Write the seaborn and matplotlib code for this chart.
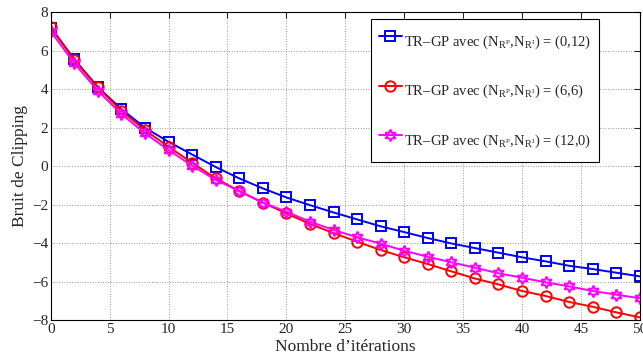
import seaborn as sns
import pandas as pd
import matplotlib.pyplot as plt
import numpy as np

iterations = list(range(0, 51, 2))

bruit_0_12 = [7.2, 5.55, 4.1, 2.96, 1.99, 1.26, 0.6, -0.05, -0.64, -1.16, -1.63, -2.03, -2.41,
              -2.77, -3.13, -3.43, -3.74, -4.02, -4.26, -4.5, -4.74, -4.95, -5.18, -5.35, -5.54, -5.73]
bruit_6_6 = [7.22, 5.5, 4.09, 2.86, 1.87, 1.0, 0.17, -0.64, -1.3, -1.9, -2.46, -3.01, -3.48,
             -3.93, -4.36, -4.74, -5.09, -5.47, -5.84, -6.15, -6.49, -6.75, -7.06, -7.31, -7.6, -7.86]
bruit_12_0 = [7.0, 5.33, 3.91, 2.7, 1.7, 0.83, 0.02, -0.72, -1.3, -1.9, -2.37, -2.89, -3.32,
              -3.7, -4.03, -4.4, -4.71, -5.0, -5.28, -5.57, -5.8, -6.04, -6.25, -6.49, -6.68, -6.87]

labels = [r'TR–GP avec (N$_{\mathrm{R}^{\mathrm{P}}}$,N$_{\mathrm{R}^{\mathrm{I}}}$) = (0,12)',
          r'TR–GP avec (N$_{\mathrm{R}^{\mathrm{P}}}$,N$_{\mathrm{R}^{\mathrm{I}}}$) = (6,6)',
          r'TR–GP avec (N$_{\mathrm{R}^{\mathrm{P}}}$,N$_{\mathrm{R}^{\mathrm{I}}}$) = (12,0)']

df = pd.DataFrame({'iter': iterations, 'a': bruit_0_12, 'b': bruit_6_6, 'c': bruit_12_0})

sns.set_style('white')
plt.rcParams['font.family'] = ['Liberation Serif', 'DejaVu Serif']
plt.rcParams['mathtext.fontset'] = 'custom'
plt.rcParams['mathtext.rm'] = 'Liberation Serif'
plt.rcParams['mathtext.it'] = 'Liberation Serif:italic'

fig = plt.figure(figsize=(6.43, 3.56), dpi=100)
ax = fig.add_axes([0.079, 0.101, 0.916, 0.865])

styles = [('a', 'blue', 's', 6.5), ('b', 'red', 'o', 7.5), ('c', 'magenta', (6, 1, 0), 8.5)]
for (col, color, marker, ms), lab in zip(styles, labels):
    sns.lineplot(data=df, x='iter', y=col, ax=ax, color=color, marker=marker,
                 markersize=ms, markerfacecolor='none', markeredgecolor=color,
                 markeredgewidth=1.4, linewidth=1.4, label=lab)

ax.set_xlim(0, 50)
ax.set_ylim(-8, 8)
ax.set_xticks(np.arange(0, 51, 5))
ax.set_yticks(np.arange(-8, 9, 2))
ax.grid(True, linestyle=':', color='#999999', linewidth=0.7)
ax.tick_params(direction='in', top=True, right=True, length=4, labelsize=11, pad=2)
for s in ax.spines.values():
    s.set_color('black')
    s.set_linewidth(0.8)

ax.set_xlabel('Nombre d’itérations', fontsize=12.5, labelpad=2.5)
ax.set_ylabel('Bruit de Clipping', fontsize=12.5, labelpad=3)

leg = ax.legend(loc='upper right', bbox_to_anchor=(0.930, 0.977), fontsize=10.5,
                labelspacing=1.4, handlelength=1.6, handleheight=2.7, handletextpad=0.15,
                borderpad=0.5, borderaxespad=0, fancybox=False, framealpha=1, edgecolor='black')
leg.get_frame().set_linewidth(0.8)

plt.savefig('out.png', dpi=100)
